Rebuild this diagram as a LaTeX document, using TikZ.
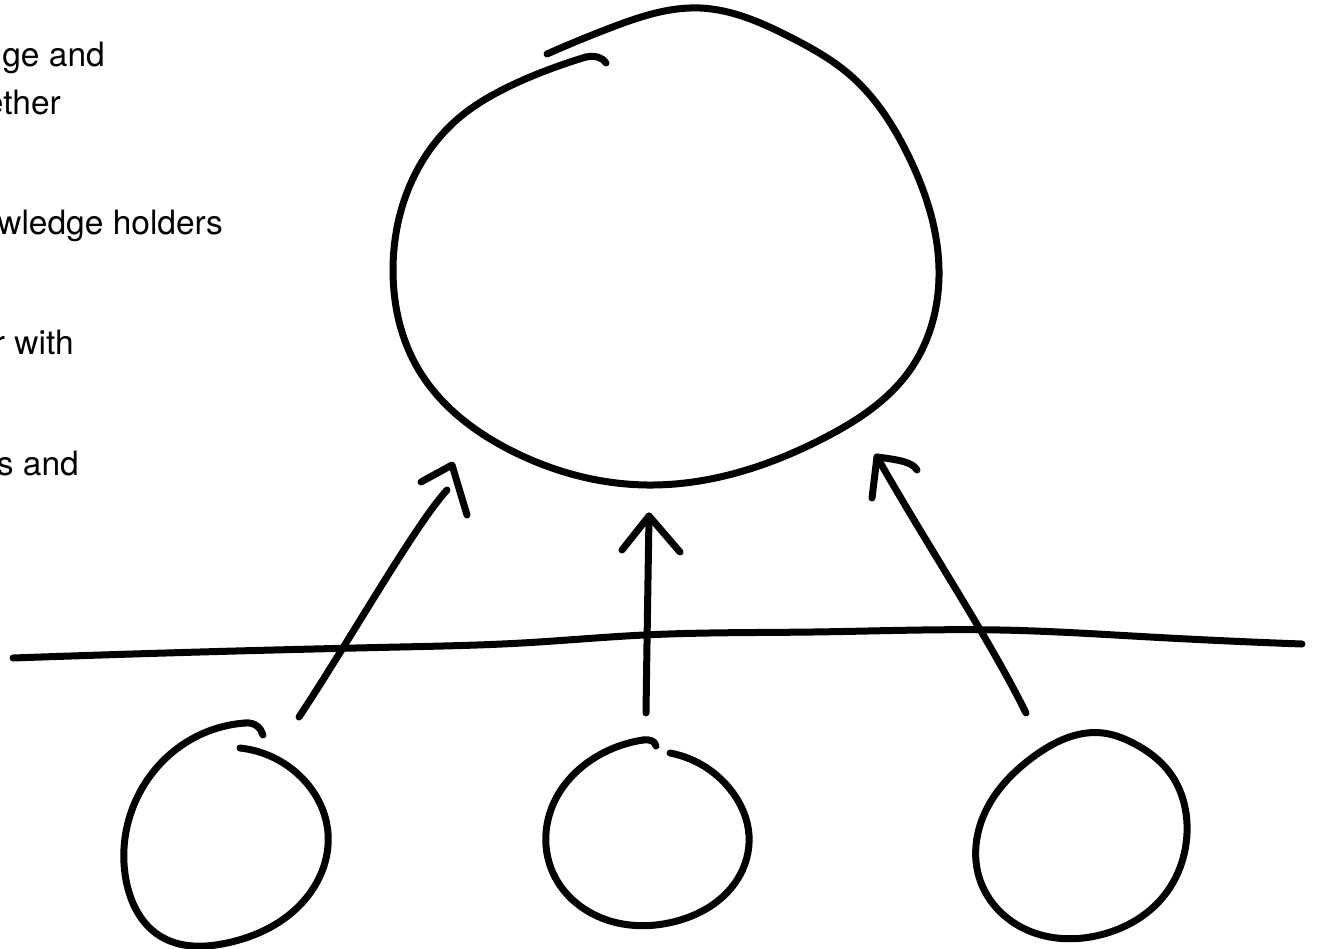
\documentclass[tikz,border=0pt]{standalone}
\usepackage{fontspec}
\setmainfont{TeX Gyre Heros}
\usetikzlibrary{hobby}
\begin{document}
\begin{tikzpicture}[x=1pt,y=-1pt,
  ink/.style={line width=7pt, line cap=round, line join=round, black},
  lbl/.style={anchor=base east, inner sep=0pt, font=\fontsize{33.5}{40}\selectfont}]
\useasboundingbox (0,0) rectangle (1319,949);
\clip (0,0) rectangle (1319,949);

% text fragments (cut at the left edge)
\node[lbl] (t1) at (105,67) {ge and};
\node[lbl] (t2) at (61,115) {ether};
\node[lbl] (t3) at (223,235) {wledge holders};
\node[lbl] (t4) at (74,354) {r with};
\node[lbl] (t5) at (79,475) {s and};

% big circle
\draw[ink, use Hobby shortcut] (547,54) .. (610,28) .. (700,8) .. (790,37)
  .. (850,75) .. (908,155) .. (939,270) .. (910,370) .. (824,438) .. (647,485)
  .. (510,450) .. (420,372) .. (393,270) .. (423,160) .. (460,117) .. (502,90)
  .. (545,71) .. (586,57);
\draw[ink] (586,57) .. controls (596,55) and (603,58) .. (606,63);
\coordinate (big) at (668,250);

% small circles
\draw[ink, use Hobby shortcut] (240,748) .. (300,776) .. (328,833)
  .. (300,905) .. (227,943) .. (160,936) .. (126,880) .. (136,800)
  .. (190,740) .. (245,723);
\draw[ink] (245,723) .. controls (255,722) and (261,728) .. (263,735);
\coordinate (s1) at (227,834);

\draw[ink, use Hobby shortcut] (670,753) .. (733,793) .. (749,835)
  .. (737,880) .. (673,922) .. (607,920) .. (553,873) .. (552,807)
  .. (603,753) .. (643,740);
\draw[ink] (643,740) .. controls (650,739) and (655,741) .. (656,746);
\coordinate (s2) at (648,834);

\draw[ink, use Hobby shortcut, closed=true] (1103,733) .. (1033,757)
  .. (983,817) .. (980,880) .. (1027,930) .. (1100,935) .. (1163,897)
  .. (1187,833) .. (1170,773) .. (1133,743);
\coordinate (s3) at (1082,835);

% horizontal line
\coordinate (hl) at (13,658);
\coordinate (hr) at (1302,644);
\draw[ink, use Hobby shortcut] (hl) .. (200,652) .. (400,647) .. (522,643)
  .. (644,635) .. (813,632) .. (1000,630) .. (1150,637) .. (hr);

% arrows (hand drawn)
\coordinate (a1s) at (299,717);
\coordinate (a1e) at (447,490);
\coordinate (a1t) at (452,465);
\draw[ink] (a1s) .. controls (350,640) and (415,525) .. (a1e);
\draw[ink] (421,482) -- (a1t) -- (467,515);

\coordinate (a2s) at (646,713);
\coordinate (a2t) at (649,516);
\draw[ink] (a2s) .. controls (647,640) and (648,580) .. (a2t);
\draw[ink] (622,550) -- (a2t) -- (680,552);

\coordinate (a3s) at (1026,713);
\coordinate (a3t) at (877,457);
\draw[ink] (a3s) .. controls (990,640) and (930,550) .. (a3t);
\draw[ink] (872,498) -- (a3t) .. controls (900,460) and (912,462) .. (917,470);
\end{tikzpicture}
\end{document}
